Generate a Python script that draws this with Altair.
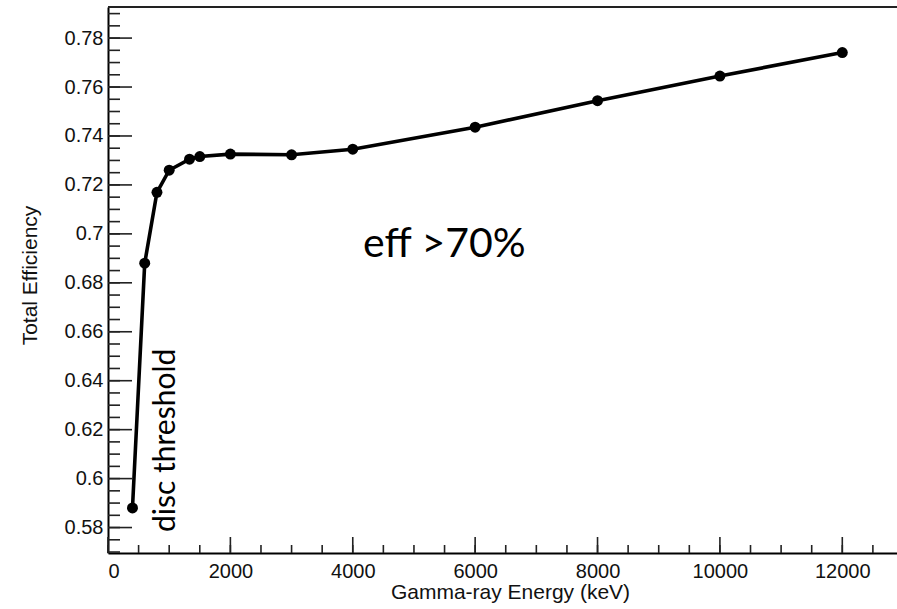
import altair as alt
import pandas as pd

# data
energy_kev = [400, 600, 800, 1000, 1332, 1500, 2000, 3000, 4000, 6000, 8000, 10000, 12000]
efficiency = [0.588, 0.688, 0.717, 0.726, 0.7305, 0.7316, 0.7326, 0.7323, 0.7346, 0.7436, 0.7544, 0.7645, 0.7741]

y_major = [0.58, 0.60, 0.62, 0.64, 0.66, 0.68, 0.70, 0.72, 0.74, 0.76, 0.78]
y_minor = [round(0.57 + 0.005 * i, 3) for i in range(45) if 0.57 + 0.005 * i < 0.7925]
x_major = [0, 2000, 4000, 6000, 8000, 10000, 12000]
x_minor = [500 * i for i in range(26)]

ann_text = ["eff >70%", "disc threshold"]
ann_x = [4167, 1095]
ann_y = [0.6906, 0.5782]

X_DOMAIN = [0, 12894]
Y_DOMAIN = [0.5696, 0.7927]
W, H = 789, 546

df = pd.DataFrame({"E": energy_kev, "eff": efficiency})
xs = alt.Scale(domain=X_DOMAIN, nice=False, zero=False)
ys = alt.Scale(domain=Y_DOMAIN, nice=False, zero=False)

FONT = "Liberation Sans"

x_enc = alt.X("E:Q", scale=xs, axis=alt.Axis(
    values=x_major, format="d", ticks=False, grid=False, domain=True,
    domainColor="black", domainWidth=2, labelFont=FONT, labelFontSize=20,
    labelColor="#111", labelPadding=8, title="Gamma-ray Energy (keV)",
    titleFont=FONT, titleFontSize=21, titleFontWeight="normal", titleColor="#111",
    titleX=402, titleY=39, titleAnchor="start", titleAlign="center", titleBaseline="middle"))
y_enc = alt.Y("eff:Q", scale=ys, axis=alt.Axis(
    values=y_major, format=".2~f", ticks=False, grid=False, domain=True,
    domainColor="black", domainWidth=2, labelFont=FONT, labelFontSize=20,
    labelColor="#111", labelPadding=5, title="Total Efficiency",
    titleFont=FONT, titleFontSize=21, titleFontWeight="normal", titleColor="#111",
    titleX=-78, titleY=268, titleAngle=270, titleAlign="center", titleBaseline="middle"))

line = alt.Chart(df).mark_line(color="black", strokeWidth=3.6).encode(x=x_enc, y=y_enc)
pts = alt.Chart(df).mark_point(filled=True, color="black", size=120, opacity=1).encode(
    x=alt.X("E:Q", scale=xs), y=alt.Y("eff:Q", scale=ys))

ymaj = alt.Chart(pd.DataFrame({"v": y_major})).mark_rule(color="#222", strokeWidth=1.6).encode(
    y=alt.Y("v:Q", scale=ys), x=alt.value(0), x2=alt.value(24))
ymin = alt.Chart(pd.DataFrame({"v": y_minor})).mark_rule(color="#222", strokeWidth=1.6).encode(
    y=alt.Y("v:Q", scale=ys), x=alt.value(0), x2=alt.value(12))
xmaj = alt.Chart(pd.DataFrame({"v": x_major})).mark_rule(color="#222", strokeWidth=1.6).encode(
    x=alt.X("v:Q", scale=xs), y=alt.value(H), y2=alt.value(H - 16))
xmin = alt.Chart(pd.DataFrame({"v": x_minor})).mark_rule(color="#222", strokeWidth=1.6).encode(
    x=alt.X("v:Q", scale=xs), y=alt.value(H), y2=alt.value(H - 8))
top = alt.Chart(pd.DataFrame({"v": [0]})).mark_rule(color="#222", strokeWidth=2).encode(
    y=alt.value(0), x=alt.value(0), x2=alt.value(W))

ann = pd.DataFrame({"t": ann_text, "x": ann_x, "y": ann_y})
eff_txt = alt.Chart(ann.iloc[[0]]).mark_text(
    font="Lato", fontSize=41, align="left", baseline="alphabetic", color="black").encode(
    x=alt.X("x:Q", scale=xs), y=alt.Y("y:Q", scale=ys), text="t:N")
disc_txt = alt.Chart(ann.iloc[[1]]).mark_text(
    font="Lato", fontSize=30, angle=270, align="left", baseline="alphabetic", color="black").encode(
    x=alt.X("x:Q", scale=xs), y=alt.Y("y:Q", scale=ys), text="t:N")

chart = alt.layer(line, ymaj, ymin, xmaj, xmin, top, pts, eff_txt, disc_txt).properties(
    width=W, height=H,
    padding={"left": 108, "top": 7, "right": 0, "bottom": 56},
    autosize=alt.AutoSizeParams(type="none"),
    background="white",
).configure_view(stroke=None)

chart.save("out.html", embed_options={"renderer": "svg", "actions": False})
